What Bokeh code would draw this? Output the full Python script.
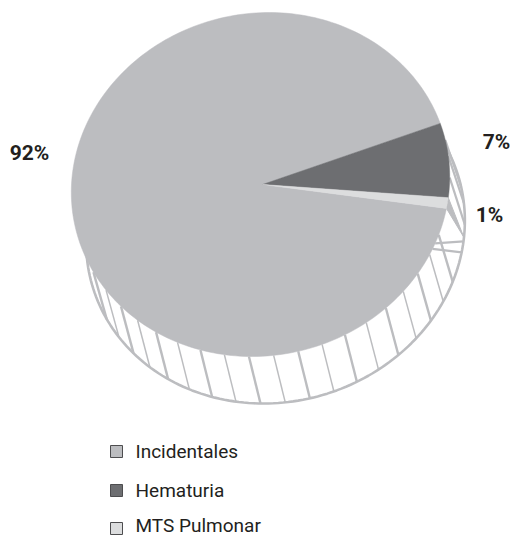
import math
from bokeh.core.properties import value
from bokeh.embed import file_html
from bokeh.models import ColumnDataSource, Range1d
from bokeh.plotting import figure
from bokeh.resources import INLINE

categories = ["Incidentales", "Hematuria", "MTS Pulmonar"]
percent = [92, 7, 1]
percent_labels = ["92%", "7%", "1%"]
colors = ["#bcbdc0", "#6d6e71", "#dcddde"]

# Pie geometry in page pixels (y grows downward); the skews lean each ellipse slightly
CX, CY, RX, RY = 260, 184, 189, 172
TOP_SKEW = 0.05
LOW_SKEW = 0.07
APEX_X, APEX_Y = 262, 184
DX, DY = 15, 47
START_ANGLE = 339.2   # where the Hematuria slice begins, clockwise on screen
RIM = "#bcbdc0"
INK = "#231f20"
FONT = value("Roboto")

# Rim stations (degrees) for the side hatching, alternating heavy and light strokes
hatch_angles = [149.4, 142.1, 134.9, 127.9, 120.9, 113.4, 105.9, 98.4, 90.9, 83.4, 75.9,
                68.4, 60.9, 53.4, 45.9, 38.4, 31.2, 24, 17]
side_angles = [-2.3, -9.6, -15]


def rim(t):
    r = math.radians(t)
    return (CX + RX * math.cos(r) - TOP_SKEW * RY * math.sin(r),
            CY + RY * math.sin(r))


def low(t):
    r = math.radians(t)
    return (CX + DX + RX * math.cos(r) - LOW_SKEW * RY * math.sin(r),
            CY + DY + RY * math.sin(r))


def arc(a0, a1, curve=rim, steps=240):
    pts = [curve(a0 + (a1 - a0) * i / steps) for i in range(steps + 1)]
    return [q[0] for q in pts], [q[1] for q in pts]


p = figure(width=513, height=536, output_backend="svg", toolbar_location=None,
           x_range=Range1d(0, 513), y_range=Range1d(536, 0), min_border=0,
           outline_line_color=None, background_fill_color="white")
p.axis.visible = False
p.grid.visible = False

# Lower rim of the disc
xs, ys = arc(0, 360, low)
p.patch(xs, ys, fill_color="white", line_color=RIM, line_width=2.6)

# Hatching on the side wall
hx, hy, hw = [], [], []
for i, t in enumerate(hatch_angles):
    x0, y0 = rim(t)
    x1, y1 = low(t)
    hx.append([x0, x1])
    hy.append([y0, y1])
    hw.append(2.4 if i % 2 == 0 else 1.5)
for t in side_angles:
    x0, y0 = rim(t)
    x1, y1 = low(t)
    hx.append([x0, x1])
    hy.append([y0, y1])
    hw.append(2.2)
p.multi_line(xs="x", ys="y", line_width="w", line_color=RIM,
             source=ColumnDataSource(dict(x=hx, y=hy, w=hw)))

# Cut faces where the small slices meet the wall
cuts = [(20.0, 3.3), (22.0, 7.0)]
for a, b in cuts:
    x0, y0 = rim(a)
    x1, y1 = low(b)
    p.line([x0, x1], [y0, y1], line_color=RIM, line_width=2.2)
band_end = START_ANGLE + sum(percent[1:]) * 3.6 - 360
bx0, by0 = rim(band_end - percent[2] * 3.6)
bx1, by1 = rim(band_end)
bx2, by2 = low(2)
p.patch([bx0, bx1, bx2], [by0, by1, by2], fill_color=RIM, line_color=RIM)

# Top face: the largest slice goes down first, then the small ones over its apex
spans = [(1, START_ANGLE), (2, START_ANGLE + percent[1] * 3.6),
         (0, START_ANGLE + sum(percent[1:]) * 3.6)]
for idx, angle in sorted(spans, key=lambda s: s[0]):
    xs, ys = arc(angle, angle + percent[idx] * 3.6)
    p.patch([APEX_X] + xs, [APEX_Y] + ys, fill_color=colors[idx],
            line_color=colors[idx], line_width=0.5)

# Percentage labels
p.text(x=[29, 496, 489], y=[152, 141, 214], text=percent_labels, text_font=FONT,
       text_font_style="bold", text_font_size="21px", text_color=INK,
       text_align="center", text_baseline="middle")

# Legend
p.rect(x=[116] * 3, y=[451, 490, 528], width=12, height=12, fill_color=colors,
       line_color="#4d4d4f", line_width=1)
p.text(x=[135] * 3, y=[451, 490, 525], text=categories, text_font=FONT, text_font_size="19px",
       text_color=INK, text_align="left", text_baseline="middle")

open("out.html", "w").write(file_html(p, INLINE))
